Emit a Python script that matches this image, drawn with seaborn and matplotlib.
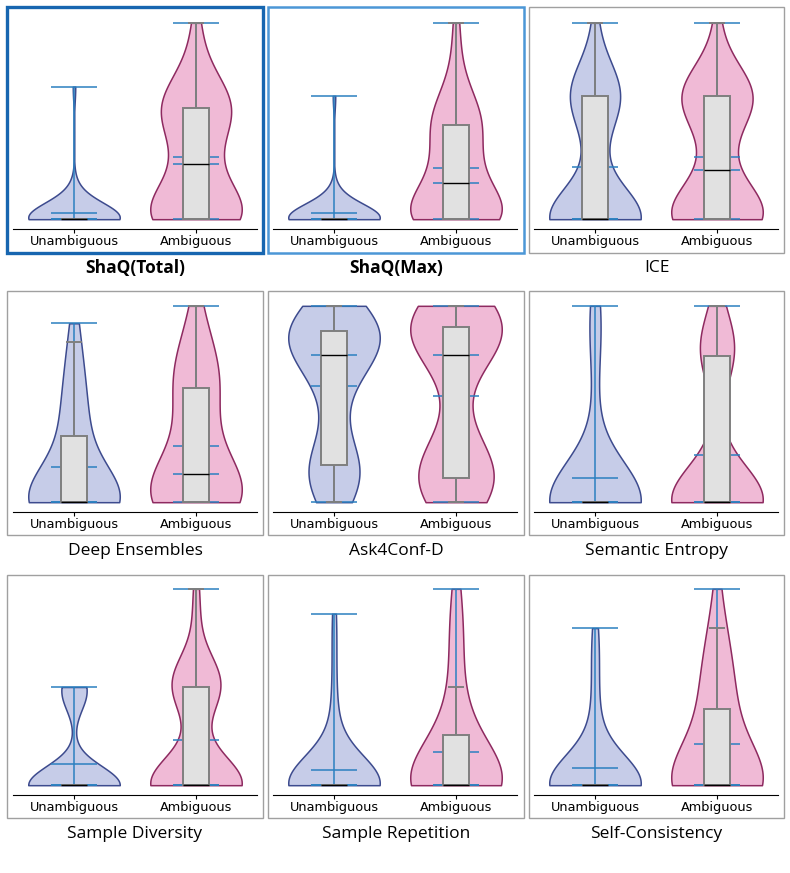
#=====================================================================================================
# Program Name     : UncertaintyViolinGrid
# Description      : Violin + box plots of uncertainty scores for unambiguous vs ambiguous questions,
#                    one panel per uncertainty method (3 x 3 grid).
# Output           : out.png
#=====================================================================================================

import numpy as np
import pandas as pd
import matplotlib
matplotlib.use("Agg")
import matplotlib.pyplot as plt
from matplotlib.patches import Rectangle
import seaborn as sns

#-----------------------------------------------------------------------------------------------------
# Data (scores normalised to 0..1 per method)
#-----------------------------------------------------------------------------------------------------
Groups = ["Unambiguous", "Ambiguous"]

Titles = ["ShaQ(Total)", "ShaQ(Max)", "ICE",
          "Deep Ensembles", "Ask4Conf-D", "Semantic Entropy",
          "Sample Diversity", "Sample Repetition", "Self-Consistency"]

shaq_total_unamb = [0, 0, 0, 0, 0, 0, 0, 0, 0, 0, 0, 0, 0, 0, 0, 0, 0, 0, 0, 0, 0, 0, 0, 0, 0, 0, 0, 0, 0, 0, 0,
                    0.02, 0.03, 0.04, 0.05, 0.06, 0.08, 0.1, 0.12, 0.14, 0.675]
shaq_total_amb = [0, 0, 0, 0, 0, 0, 0, 0, 0, 0, 0,
                  0.02, 0.04, 0.06, 0.08, 0.1, 0.12, 0.15, 0.19, 0.24, 0.279,
                  0.3, 0.34, 0.4, 0.44, 0.48, 0.5, 0.52, 0.54, 0.55, 0.565,
                  0.57, 0.58, 0.6, 0.62, 0.64, 0.67, 0.7, 0.75, 0.85, 1.0]

shaq_max_unamb = [0, 0, 0, 0, 0, 0, 0, 0, 0, 0, 0, 0, 0, 0, 0, 0, 0, 0, 0, 0, 0, 0, 0, 0, 0, 0, 0, 0, 0, 0, 0,
                  0.02, 0.03, 0.04, 0.05, 0.06, 0.07, 0.09, 0.11, 0.13, 0.628]
shaq_max_amb = [0, 0, 0, 0, 0, 0, 0, 0, 0, 0, 0,
                0.01, 0.02, 0.04, 0.05, 0.07, 0.09, 0.11, 0.13, 0.16, 0.184,
                0.2, 0.23, 0.26, 0.29, 0.32, 0.35, 0.38, 0.41, 0.45, 0.48,
                0.49, 0.5, 0.52, 0.54, 0.56, 0.6, 0.64, 0.7, 0.82, 1.0]

ice_unamb = [0, 0, 0, 0, 0, 0, 0, 0, 0, 0, 0, 0, 0, 0, 0, 0, 0, 0, 0, 0, 0,
             0.02, 0.08, 0.18, 0.3, 0.4, 0.47, 0.52, 0.56, 0.6, 0.628,
             0.63, 0.635, 0.64, 0.65, 0.66, 0.67, 0.69, 0.72, 0.8, 1.0]
ice_amb = [0, 0, 0, 0, 0, 0, 0, 0, 0, 0, 0,
           0.01, 0.02, 0.03, 0.04, 0.05, 0.07, 0.09, 0.12, 0.17, 0.25,
           0.3, 0.36, 0.44, 0.5, 0.54, 0.56, 0.58, 0.6, 0.61, 0.628,
           0.635, 0.64, 0.645, 0.65, 0.66, 0.67, 0.69, 0.72, 0.8, 1.0]

deep_ens_unamb = [0, 0, 0, 0, 0, 0, 0, 0, 0, 0, 0, 0, 0, 0, 0, 0, 0, 0, 0, 0, 0,
                  0.01, 0.02, 0.04, 0.07, 0.1, 0.14, 0.19, 0.25, 0.3, 0.335,
                  0.36, 0.4, 0.45, 0.5, 0.55, 0.6, 0.66, 0.72, 0.814, 0.911]
deep_ens_amb = [0, 0, 0, 0, 0, 0, 0, 0, 0, 0, 0,
                0.01, 0.02, 0.03, 0.04, 0.06, 0.07, 0.09, 0.11, 0.13, 0.142,
                0.16, 0.2, 0.24, 0.29, 0.34, 0.39, 0.44, 0.49, 0.54, 0.583,
                0.6, 0.62, 0.64, 0.66, 0.69, 0.72, 0.76, 0.81, 0.89, 1.0]

ask4conf_unamb = [0, 0.04, 0.07, 0.1, 0.12, 0.14, 0.15, 0.16, 0.17, 0.18, 0.188,
                  0.22, 0.3, 0.4, 0.5, 0.58, 0.64, 0.68, 0.71, 0.73, 0.752,
                  0.77, 0.78, 0.79, 0.8, 0.81, 0.82, 0.83, 0.845, 0.86, 0.873,
                  0.88, 0.89, 0.9, 0.91, 0.92, 0.93, 0.95, 0.96, 0.98, 1.0]
ask4conf_amb = [0, 0.02, 0.04, 0.06, 0.08, 0.09, 0.1, 0.11, 0.115, 0.12, 0.125,
                0.14, 0.16, 0.18, 0.2, 0.23, 0.27, 0.33, 0.45, 0.65, 0.752,
                0.78, 0.8, 0.82, 0.83, 0.84, 0.85, 0.86, 0.87, 0.88, 0.89,
                0.9, 0.91, 0.92, 0.93, 0.94, 0.95, 0.96, 0.97, 0.99, 1.0]

sem_entropy_unamb = [0, 0, 0, 0, 0, 0, 0, 0, 0, 0, 0, 0, 0, 0, 0, 0, 0, 0, 0, 0, 0, 0, 0, 0, 0, 0, 0, 0, 0, 0, 0,
                     0.02, 0.05, 0.1, 0.2, 0.4, 0.65, 0.82, 0.92, 0.97, 1.0]
sem_entropy_amb = [0, 0, 0, 0, 0, 0, 0, 0, 0, 0, 0, 0, 0, 0, 0, 0, 0, 0, 0, 0, 0,
                   0.01, 0.01, 0.02, 0.03, 0.05, 0.08, 0.12, 0.25, 0.5, 0.744,
                   0.75, 0.755, 0.76, 0.77, 0.78, 0.79, 0.8, 0.82, 0.87, 1.0]

sample_div_unamb = [0, 0, 0, 0, 0, 0, 0, 0, 0, 0, 0, 0, 0, 0, 0, 0, 0, 0, 0, 0, 0, 0, 0, 0, 0, 0, 0, 0, 0, 0, 0,
                    0.05, 0.44, 0.46, 0.47, 0.48, 0.49, 0.49, 0.5, 0.5, 0.5]
sample_div_amb = [0, 0, 0, 0, 0, 0, 0, 0, 0, 0, 0, 0, 0, 0, 0, 0, 0, 0, 0, 0, 0,
                  0.02, 0.05, 0.1, 0.2, 0.35, 0.44, 0.46, 0.48, 0.49, 0.5,
                  0.51, 0.52, 0.53, 0.54, 0.55, 0.56, 0.58, 0.62, 0.85, 1.0]

sample_rep_unamb = [0, 0, 0, 0, 0, 0, 0, 0, 0, 0, 0, 0, 0, 0, 0, 0, 0, 0, 0, 0, 0, 0, 0, 0, 0, 0, 0, 0, 0, 0, 0,
                    0.02, 0.05, 0.08, 0.12, 0.18, 0.25, 0.35, 0.5, 0.7, 0.873]
sample_rep_amb = [0, 0, 0, 0, 0, 0, 0, 0, 0, 0, 0, 0, 0, 0, 0, 0, 0, 0, 0, 0, 0,
                  0.01, 0.02, 0.03, 0.05, 0.07, 0.09, 0.12, 0.16, 0.2, 0.254,
                  0.27, 0.3, 0.35, 0.42, 0.5, 0.66, 0.72, 0.8, 0.9, 1.0]

self_cons_unamb = [0, 0, 0, 0, 0, 0, 0, 0, 0, 0, 0, 0, 0, 0, 0, 0, 0, 0, 0, 0, 0, 0, 0, 0, 0, 0, 0, 0, 0, 0, 0,
                   0.03, 0.07, 0.12, 0.18, 0.25, 0.35, 0.45, 0.6, 0.7, 0.8]
self_cons_amb = [0, 0, 0, 0, 0, 0, 0, 0, 0, 0, 0, 0, 0, 0, 0, 0, 0, 0, 0, 0, 0,
                 0.02, 0.05, 0.09, 0.13, 0.18, 0.23, 0.28, 0.33, 0.37, 0.39,
                 0.42, 0.46, 0.5, 0.55, 0.6, 0.65, 0.7, 0.75, 0.8, 1.0]

Panels = [(shaq_total_unamb, shaq_total_amb), (shaq_max_unamb, shaq_max_amb), (ice_unamb, ice_amb),
          (deep_ens_unamb, deep_ens_amb), (ask4conf_unamb, ask4conf_amb), (sem_entropy_unamb, sem_entropy_amb),
          (sample_div_unamb, sample_div_amb), (sample_rep_unamb, sample_rep_amb), (self_cons_unamb, self_cons_amb)]

# KDE smoothing per violin (unambiguous, ambiguous)
BwAdjust = [(1.4, 1.0), (1.4, 1.0), (1.0, 1.0),
            (1.3, 1.2), (1.0, 1.0), (1.4, 1.0),
            (1.0, 1.0), (1.5, 1.4), (1.5, 1.4)]

#-----------------------------------------------------------------------------------------------------
# Style / layout (pixel based, figure is 790 x 873)
#-----------------------------------------------------------------------------------------------------
FigW, FigH = 790, 873
FillColors = ["#c6cce8", "#f0bad6"]
EdgeColors = ["#3d4b8e", "#8e2a60"]
StatColor = "#2b80c0"

AxLeft = [13, 273, 534]
AxBottom = [229, 512, 795]
AxWidth, AxHeight = 244, 216

FrameX = [(7, 263), (268, 524), (529, 784)]
FrameY = [(7, 253), (291, 535), (575, 818)]
TitleY = [268, 551, 834]
FrameStyle = [("#1766b0", 2.4), ("#4c97d6", 1.8), ("#a0a0a0", 1.0)] + [("#a0a0a0", 1.0)] * 6


def px_rect(x0, y0, x1, y1):
    return [x0 / FigW, 1 - y1 / FigH, (x1 - x0) / FigW, (y1 - y0) / FigH]


#-----------------------------------------------------------------------------------------------------
# Function Name    : draw_panel
# Description      : violins (cut at data range) + mean/median/extrema lines + box plot
#-----------------------------------------------------------------------------------------------------
def draw_panel(ax, unamb, amb, bw):
    df = pd.DataFrame({
        "group": [Groups[0]] * len(unamb) + [Groups[1]] * len(amb),
        "score": unamb + amb,
    })

    for pos, g in enumerate(Groups):
        sub = df[df["group"] == g]
        sns.violinplot(data=sub, x="group", y="score", order=Groups,
                       color=FillColors[pos], linecolor=EdgeColors[pos], linewidth=1.1,
                       cut=0, inner=None, density_norm="width", width=0.75,
                       bw_adjust=bw[pos], saturation=1, ax=ax)
        vals = sub["score"].to_numpy()
        stats = [vals.min(), vals.max(), vals.mean(), np.median(vals)]
        ax.hlines(stats, pos - 0.1875, pos + 0.1875, color=StatColor, lw=1.1, zorder=2)
        ax.vlines(pos, vals.min(), vals.max(), color=StatColor, lw=1.1, zorder=2)

    sns.boxplot(data=df, x="group", y="score", order=Groups, width=0.22,
                color="#e1e1e1", linecolor="#7f7f7f", linewidth=1.4,
                showfliers=False, saturation=1,
                medianprops={"color": "black", "linewidth": 1.0},
                zorder=3, ax=ax)

    ax.set_xlim(-0.5, 1.5)
    ax.set_ylim(-0.05, 1.05)
    ax.set_xlabel("")
    ax.set_ylabel("")
    ax.set_yticks([])
    for side in ["left", "right", "top"]:
        ax.spines[side].set_visible(False)
    ax.tick_params(axis="x", labelsize=9.3, length=3, pad=1.5)


def main():
    fig = plt.figure(figsize=(FigW / 100, FigH / 100), dpi=100)

    for i, (unamb, amb) in enumerate(Panels):
        r, c = divmod(i, 3)
        ax = fig.add_axes(px_rect(AxLeft[c], AxBottom[r] - AxHeight, AxLeft[c] + AxWidth, AxBottom[r]))
        draw_panel(ax, unamb, amb, BwAdjust[i])

        (x0, x1), (y0, y1) = FrameX[c], FrameY[r]
        ec, lw = FrameStyle[i]
        fig.add_artist(Rectangle((x0 / FigW, 1 - y1 / FigH), (x1 - x0) / FigW, (y1 - y0) / FigH,
                                 transform=fig.transFigure, fill=False, edgecolor=ec, lw=lw))

        fig.text((x0 + x1) / 2 / FigW, 1 - TitleY[r] / FigH, Titles[i],
                 ha="center", va="center", fontsize=12.5, family="Open Sans",
                 fontweight="bold" if i < 2 else "normal")

    fig.savefig("out.png", dpi=100)


if __name__ == "__main__":
    main()
